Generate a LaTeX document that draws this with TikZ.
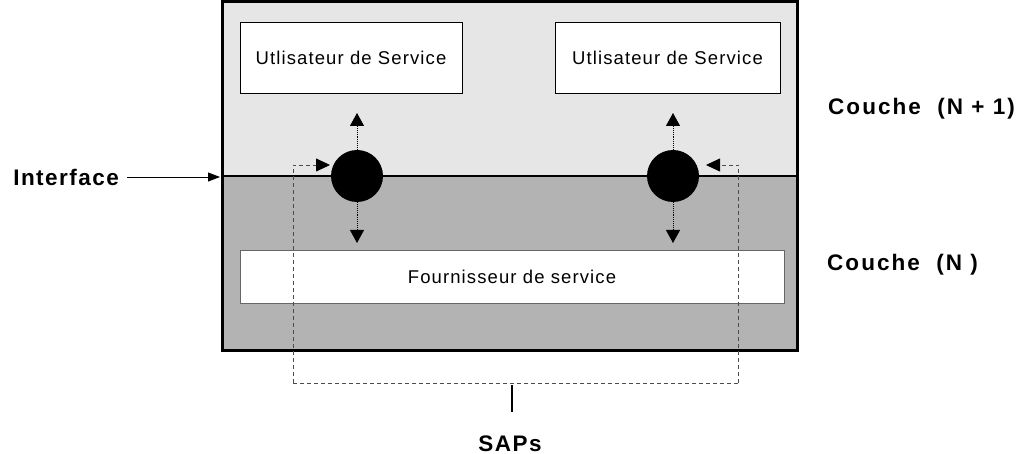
\documentclass[tikz,border=0pt]{standalone}
\usepackage{fontspec}
\setmainfont{Liberation Sans}
\newfontfamily\layerfont[LetterSpace=9]{Liberation Sans}
\newfontfamily\labelfont[LetterSpace=6.5]{Liberation Sans}
\newfontfamily\boxfont[LetterSpace=6]{Liberation Sans}
\usetikzlibrary{arrows.meta}
\definecolor{upper}{HTML}{E6E6E6}
\definecolor{lower}{HTML}{B3B3B3}
\tikzset{
  x=1pt, y=-1pt,
  service/.style={draw=black, line width=0.8pt, fill=white, font=\boxfont\fontsize{18.5}{21}\selectfont},
  sap/.style={circle, fill=black, minimum size=52pt, inner sep=0pt},
  layer/.style={font=\layerfont\bfseries\fontsize{22.5}{26}\selectfont, anchor=base west, inner sep=0pt},
  tag/.style={font=\labelfont\bfseries\fontsize{22.5}{26}\selectfont, inner sep=0pt},
  flow/.style={densely dotted, line width=0.9pt, -{Triangle[length=13pt,width=14pt]}},
  link/.style={dashed, line width=0.8pt, black!70, dash pattern=on 4pt off 3pt},
  linktip/.style={link, -{Triangle[length=14pt,width=13pt,fill=black,color=black]}},
}
\begin{document}
\begin{tikzpicture}
\useasboundingbox (0,0) rectangle (1022,454);
% the two layers
\fill[upper] (222,2) rectangle (797,176);
\fill[lower] (222,176) rectangle (797,350);
\draw[line width=3pt] (222,2) rectangle (797,350);
\draw[line width=2.5pt] (222,176) -- (797,176);

% service boxes
\node[service, minimum width=222pt, minimum height=71pt] (u1) at (351,57.5) {Utlisateur de Service};
\node[service, minimum width=225pt, minimum height=71pt] (u2) at (667.5,57.5) {Utlisateur de Service};
\node[service, draw=black!60, minimum width=544pt, minimum height=53pt] (prov) at (512,276.5) {Fournisseur de service};

% access points
\node[sap] (s1) at (357,176) {};
\node[sap] (s2) at (673,176) {};
\coordinate (s1u) at (357,113);
\coordinate (s1d) at (357,243);
\coordinate (s2u) at (673,113);
\coordinate (s2d) at (673,243);
\draw[flow] (s1.north) -- (s1u);
\draw[flow] (s1.south) -- (s1d);
\draw[flow] (s2.north) -- (s2u);
\draw[flow] (s2.south) -- (s2d);

% grouping of the access points
\coordinate (gl) at (293,383);
\coordinate (gr) at (738.5,383);
\draw[link] (gl) -- (gr);
\draw[linktip] (gl) -- (293,165) -- (330,165);
\draw[linktip] (gr) -- (738.5,165) -- (706,165);
\coordinate (tickt) at (512,385);
\coordinate (tickb) at (512,412);
\draw[line width=2.5pt] (tickt) -- (tickb);
\node[tag, anchor=base] (saps) at (510,451) {SAPs};

% labels
\node[layer] (cn1) at (828,114.3) {Couche\ \ (N + 1)};
\node[layer] (cn) at (827,270.7) {Couche\ \ (N )};
\node[tag, anchor=base east] (itf) at (119,186) {Interface};
\coordinate (itfs) at (127,177);
\coordinate (border) at (220,177);
\draw[line width=0.8pt, -{Triangle[length=12pt,width=9pt]}] (itfs) -- (border);
\end{tikzpicture}
\end{document}
